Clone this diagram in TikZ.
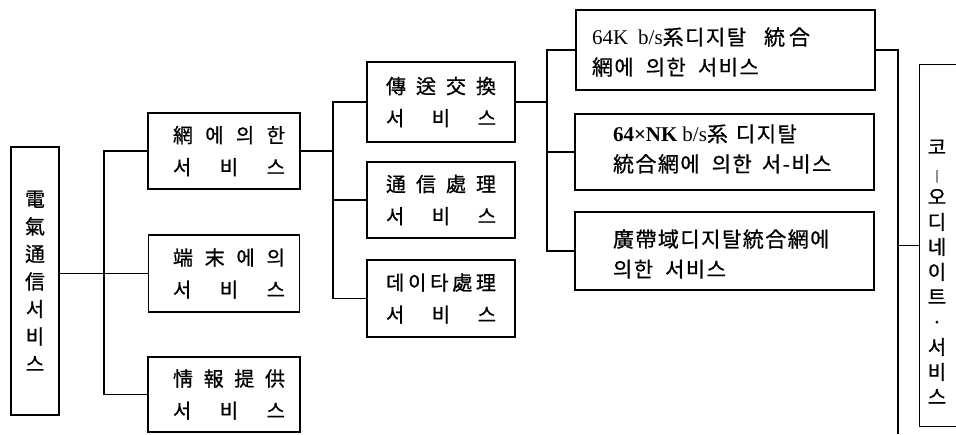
\documentclass[tikz,border=0pt]{standalone}
\usepackage{fontspec}
\setmainfont{Liberation Serif}
\newfontfamily\cjk[FakeBold=0.8]{Noto Sans CJK KR}
\newfontfamily\cjkw[FakeBold=0.8,LetterSpace=7]{Noto Sans CJK KR}
\newfontfamily\lat{Liberation Serif}
\begin{document}
\begin{tikzpicture}[x=1pt,y=-1pt,
  line width=1.4pt,
  box/.style={draw, line width=1.4pt, inner sep=0pt, font=\cjk\fontsize{20}{32}\selectfont, align=center},
  emptybox/.style={draw, line width=1.4pt, inner sep=0pt},
  rtext/.style={anchor=west, align=left, inner sep=0pt, font=\cjkw\fontsize{21}{30}\selectfont}]
\useasboundingbox (0,0) rectangle (956,434);
\fill[white] (0,0) rectangle (956,434);
\clip (0,0) rectangle (956,434);

% column 1
\node[box, minimum width=48pt, minimum height=268pt, font=\cjk\fontsize{20}{27.5}\selectfont] (root) at (35,281) {電\\氣\\通\\信\\서\\비\\스};

% column 2
\node[box, minimum width=152pt, minimum height=76pt] (n1) at (224,151)
  {\hbox to 122pt{\hskip10pt 網\hfill 에\hfill 의\hfill 한}\\\hbox to 122pt{\hskip10pt 서\hfill 비\hfill 스}};
\node[box, minimum width=151pt, minimum height=77pt] (n2) at (224,273.5)
  {\hbox to 122pt{\hskip10pt 端\hfill 末\hfill 에\hfill 의}\\\hbox to 122pt{\hskip10pt 서\hfill 비\hfill 스}};
\node[box, minimum width=152pt, minimum height=75pt] (n3) at (224,394.5)
  {\hbox to 122pt{\hskip10pt 情\hfill 報\hfill 提\hfill 供}\\\hbox to 122pt{\hskip10pt 서\hfill 비\hfill 스}};

% column 3
\node[box, minimum width=148pt, minimum height=80pt] (m1) at (441,102)
  {\hbox to 110pt{傳\hfill 送\hfill 交\hfill 換}\\\hbox to 110pt{서\hfill 비\hfill 스}};
\node[box, minimum width=148pt, minimum height=76pt] (m2) at (441,200)
  {\hbox to 110pt{通\hfill 信\hfill 處\hfill 理}\\\hbox to 110pt{서\hfill 비\hfill 스}};
\node[box, minimum width=148pt, minimum height=77pt] (m3) at (441,298.5)
  {\hbox to 110pt{데\hfill 이\hfill 타\hfill 處\hfill 理}\\\hbox to 110pt{서\hfill 비\hfill 스}};

% column 4
\node[emptybox, minimum width=299pt, minimum height=80pt] (r1) at (725.5,50) {};
\node[emptybox, minimum width=299pt, minimum height=76pt] (r2) at (724.5,152) {};
\node[emptybox, minimum width=299pt, minimum height=78pt] (r3) at (724.5,251) {};
\node[rtext] (r1t) at ([xshift=16pt,yshift=-2pt]r1.west)
  {{\lat\fontsize{21}{30}\selectfont 64K\hspace{10pt}b/s}系디지탈\hspace{18pt}統\hspace{4pt}合\\網에\hspace{12pt}의한\hspace{12pt}서비스};
\node[rtext] (r2t) at ([xshift=38pt,yshift=3pt]r2.west)
  {{\lat\fontsize{21}{30}\selectfont\bfseries 64×NK}\hspace{5pt}{\lat\fontsize{21}{30}\selectfont b/s}系\hspace{8pt}디지탈\\統合網에\hspace{12pt}의한\hspace{10pt}서-비스};
\node[rtext] (r3t) at ([xshift=38pt,yshift=-3pt]r3.west)
  {廣帶域디지탈統合網에\\의한\hspace{12pt}서비스};

% coordinate box
\node[emptybox, anchor=north west, minimum width=40pt, minimum height=362pt] (co) at (919,64) {};
\node[inner sep=0pt, align=center, font=\cjk\fontsize{20}{25}\selectfont] (cot) at (937,272)
  {코\\{\fontsize{11}{25}\selectfont |}\\오\\디\\네\\이\\트\\·\\서\\비\\스};

% bus coordinates
\coordinate (b1) at (104,0);
\coordinate (b2) at (333,0);
\coordinate (b3) at (547,0);
\coordinate (bend) at (898,434);

% connectors
\draw (root.east |- n2.west) -- (n2.west);
\draw (n1.west) -- (n1.west -| b1) -- (n3.west -| b1) -- (n3.west);
\draw (n1.east) -- (n1.east -| b2);
\draw (m1.west) -- (m1.west -| b2) -- (m3.west -| b2) -- (m3.west);
\draw (m2.west) -- (m2.west -| b2);
\draw (m1.east) -- (m1.east -| b3);
\draw (r1.west) -- (r1.west -| b3) -- (r3.west -| b3) -- (r3.west);
\draw (r2.west) -- (r2.west -| b3);
\draw (r1.east) -- (r1.east -| bend) -- (bend);
\draw (co.west -| bend) -- (co.west);
\end{tikzpicture}
\end{document}
